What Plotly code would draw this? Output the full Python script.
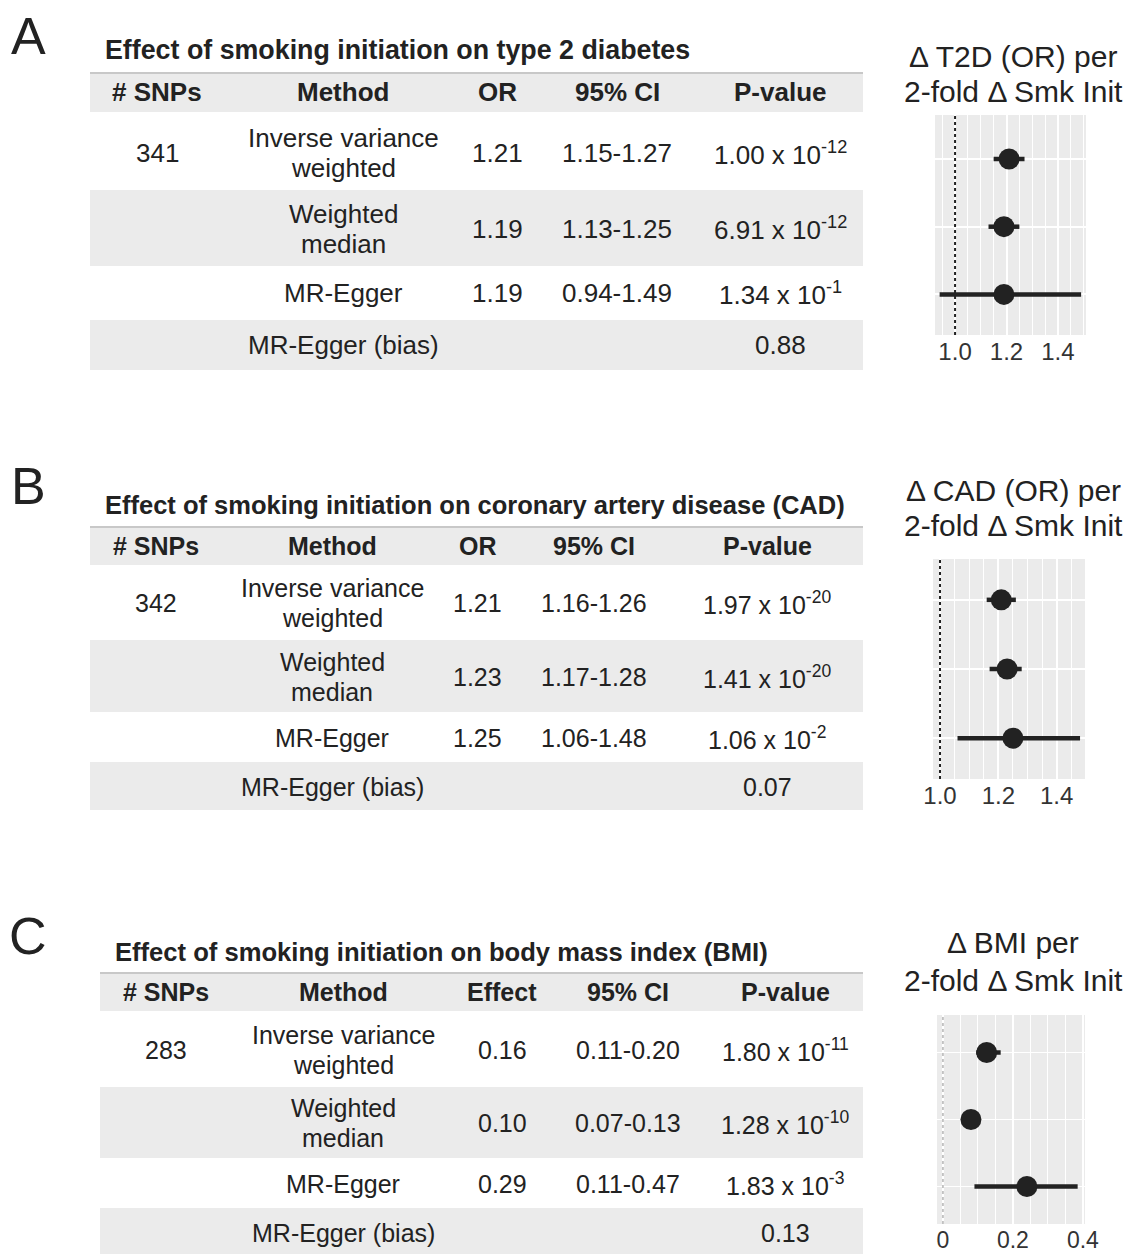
import plotly.graph_objects as go

W, H = 1128, 1254

# ---------------- data ----------------
panel_letters = ["A", "B", "C"]
titles = [
    "Effect of smoking initiation on type 2 diabetes",
    "Effect of smoking initiation on coronary artery disease (CAD)",
    "Effect of smoking initiation on body mass index (BMI)",
]
headers_A = ["# SNPs", "Method", "OR", "95% CI", "P-value"]
headers_B = ["# SNPs", "Method", "OR", "95% CI", "P-value"]
headers_C = ["# SNPs", "Method", "Effect", "95% CI", "P-value"]

methods = [["Inverse variance", "weighted"], ["Weighted", "median"], ["MR-Egger"], ["MR-Egger (bias)"]]

snps_A, snps_B, snps_C = "341", "342", "283"

est_A = [1.21, 1.19, 1.19]
lo_A = [1.15, 1.13, 0.94]
hi_A = [1.27, 1.25, 1.49]
pmant_A = ["1.00", "6.91", "1.34"]
pexp_A = ["-12", "-12", "-1"]
bias_p_A = "0.88"

est_B = [1.21, 1.23, 1.25]
lo_B = [1.16, 1.17, 1.06]
hi_B = [1.26, 1.28, 1.48]
pmant_B = ["1.97", "1.41", "1.06"]
pexp_B = ["-20", "-20", "-2"]
bias_p_B = "0.07"

est_C = [0.16, 0.10, 0.29]
lo_C = [0.11, 0.07, 0.11]
hi_C = [0.20, 0.13, 0.47]
pmant_C = ["1.80", "1.28", "1.83"]
pexp_C = ["-11", "-10", "-3"]
bias_p_C = "0.13"

# forest-plot positions
plot_est_C = [0.125, 0.08, 0.24]
plot_lo_C = [0.095, 0.072, 0.09]
plot_hi_C = [0.165, 0.088, 0.385]

forest_titles = [
    ["\u0394 T2D (OR) per", "2-fold \u0394 Smk Init"],
    ["\u0394 CAD (OR) per", "2-fold \u0394 Smk Init"],
    ["\u0394 BMI per", "2-fold \u0394 Smk Init"],
]
tickvals_A = [1.0, 1.2, 1.4]
tickvals_B = [1.0, 1.2, 1.4]
tickvals_C = [0.0, 0.2, 0.4]
ticktext_A = ["1.0", "1.2", "1.4"]
ticktext_B = ["1.0", "1.2", "1.4"]
ticktext_C = ["0", "0.2", "0.4"]
ref_lines = [1.0, 1.0, 0.0]

# ---------------- layout helpers ----------------
def px(x):
    return x / W

def py(y):
    return 1 - y / H

FONT = "Liberation Sans, Arial, sans-serif"
TXT = "#222222"
BAND = "#EBEBEB"

annotations = []
shapes = []

def text(x, y, s, size, bold=False, anchor="center", color=TXT):
    annotations.append(dict(
        x=px(x), y=py(y), xref="paper", yref="paper",
        text=("<b>%s</b>" % s) if bold else s,
        showarrow=False, xanchor=anchor, yanchor="middle",
        font=dict(family=FONT, size=size, color=color),
    ))

def rect(x0, y0, x1, y1, color):
    shapes.append(dict(type="rect", xref="paper", yref="paper",
                       x0=px(x0), x1=px(x1), y0=py(y1), y1=py(y0),
                       fillcolor=color, line=dict(width=0), layer="below"))

tables = [
    dict(letter_y=36, title_x=103, title_y=50, title_size=26.8, x0=90, x1=863, hdr=(73, 112),
         bands=[(190, 266), (320, 370)], rows=[153, 229, 293, 345],
         cols=[157, 343, 497, 617, 780], size=26,
         headers=headers_A, snps=snps_A, est=est_A, lo=lo_A, hi=hi_A,
         pm=pmant_A, pe=pexp_A, bias=bias_p_A),
    dict(letter_y=486, title_x=103, title_y=505, title_size=25.5, x0=90, x1=863, hdr=(527, 565),
         bands=[(640, 712), (762, 810)], rows=[603, 677, 738, 787],
         cols=[156, 332, 478, 594, 767], size=25,
         headers=headers_B, snps=snps_B, est=est_B, lo=lo_B, hi=hi_B,
         pm=pmant_B, pe=pexp_B, bias=bias_p_B),
    dict(letter_y=936, title_x=113, title_y=952, title_size=25.6, x0=100, x1=863, hdr=(973, 1011),
         bands=[(1087, 1158), (1208, 1254)], rows=[1050, 1123, 1184, 1233],
         cols=[166, 343, 502, 628, 785], size=25,
         headers=headers_C, snps=snps_C, est=est_C, lo=lo_C, hi=hi_C,
         pm=pmant_C, pe=pexp_C, bias=bias_p_C),
]

for i, t in enumerate(tables):
    text(28, t["letter_y"], panel_letters[i], 52)
    text(t["title_x"], t["title_y"], titles[i], t["title_size"], bold=True, anchor="left")
    rect(t["x0"], t["hdr"][0], t["x1"], t["hdr"][1], BAND)
    shapes.append(dict(type="line", xref="paper", yref="paper",
                       x0=px(t["x0"]), x1=px(t["x1"]), y0=py(t["hdr"][0]), y1=py(t["hdr"][0]),
                       line=dict(color="#C8C8C8", width=2)))
    for b in t["bands"]:
        rect(t["x0"], b[0], t["x1"], b[1], BAND)
    hy = (t["hdr"][0] + t["hdr"][1]) / 2
    for c, h in zip(t["cols"], t["headers"]):
        text(c, hy, h, t["size"], bold=True)
    s = t["size"]
    for r in range(3):
        y = t["rows"][r]
        if r == 0:
            text(t["cols"][0], y, t["snps"], s)
        m = methods[r]
        if len(m) == 2:
            text(t["cols"][1], y - 15, m[0], s)
            text(t["cols"][1], y + 15, m[1], s)
        else:
            text(t["cols"][1], y, m[0], s)
        fmt = "%.2f"
        text(t["cols"][2], y, fmt % t["est"][r], s)
        text(t["cols"][3], y, (fmt % t["lo"][r]) + "-" + (fmt % t["hi"][r]), s)
        text(t["cols"][4], y, "%s x 10<sup>%s</sup>" % (t["pm"][r], t["pe"][r]), s)
    y = t["rows"][3]
    text(t["cols"][1], y, methods[3][0], s)
    text(t["cols"][4], y, t["bias"], s)

# forest titles
ftitle_y = [(57, 92), (490, 526), (943, 980)]
for i, (l1, l2) in enumerate(forest_titles):
    text(1013, ftitle_y[i][0], l1, 30)
    text(1013, ftitle_y[i][1], l2, 30)

# ---------------- forest plots ----------------
fig = go.Figure()

forests = [
    dict(est=est_A, lo=lo_A, hi=hi_A, xd=(935, 1086), yd=(115, 335), xr=(0.922, 1.509), yr=(3.6, 0.35),
         tv=tickvals_A, tt=ticktext_A, refc="#222222", refw=2, hgrid=1.5, tsize=24),
    dict(est=est_B, lo=lo_B, hi=hi_B, xd=(933, 1085), yd=(559, 779), xr=(0.976, 1.497), yr=(3.59, 0.41),
         tv=tickvals_B, tt=ticktext_B, refc="#222222", refw=2, hgrid=1.5, tsize=24),
    dict(est=plot_est_C, lo=plot_lo_C, hi=plot_hi_C, xd=(937, 1085), yd=(1015, 1224), xr=(-0.017, 0.406),
         yr=(3.56, 0.44), tv=tickvals_C, tt=ticktext_C, refc="#A0A0A0", refw=1.2, hgrid=0.8, tsize=23),
]

layout_axes = {}
for i, f in enumerate(forests):
    suffix = "" if i == 0 else str(i + 1)
    fig.add_trace(go.Scatter(
        x=f["est"], y=[1, 2, 3], mode="markers",
        marker=dict(size=21, color="#222222"),
        error_x=dict(type="data", symmetric=False,
                     array=[h - e for h, e in zip(f["hi"], f["est"])],
                     arrayminus=[e - l for e, l in zip(f["est"], f["lo"])],
                     width=0, thickness=4.5, color="#222222"),
        xaxis="x" + suffix, yaxis="y" + suffix, showlegend=False, hoverinfo="skip",
    ))
    layout_axes["xaxis" + suffix] = dict(
        domain=[px(f["xd"][0]), px(f["xd"][1])], range=list(f["xr"]),
        anchor="y" + suffix, tickvals=f["tv"], ticktext=f["tt"], automargin=False,
        showgrid=True, gridcolor="white", gridwidth=1.5, zeroline=False,
        showline=False, ticks="", ticklabelstandoff=0,
        tickfont=dict(family=FONT, size=f["tsize"], color="#333333"),
        minor=dict(dtick=0.05, tick0=0, showgrid=True, gridcolor="white", gridwidth=1),
    )
    layout_axes["yaxis" + suffix] = dict(
        domain=[py(f["yd"][1]), py(f["yd"][0])], range=list(f["yr"]),
        anchor="x" + suffix, tickvals=[1, 2, 3], showticklabels=False, automargin=False,
        showgrid=True, gridcolor="white", gridwidth=f["hgrid"], zeroline=False,
        showline=False, ticks="",
    )
    shapes.append(dict(type="line", xref="x" + suffix, yref="y%s domain" % suffix,
                       x0=ref_lines[i], x1=ref_lines[i], y0=0, y1=1,
                       line=dict(color=f["refc"], width=f["refw"], dash="dot"), layer="above"))

fig.update_layout(
    width=W, height=H, margin=dict(l=0, r=0, t=0, b=0),
    paper_bgcolor="white", plot_bgcolor="#EBEBEB",
    annotations=annotations, shapes=shapes, showlegend=False,
    **layout_axes,
)

fig.write_html(
    "out.html",
    config={"responsive": False, "displayModeBar": False},
    post_script="document.body.style.margin='0';document.body.style.padding='0';"
                "document.documentElement.style.overflow='hidden';",
)
